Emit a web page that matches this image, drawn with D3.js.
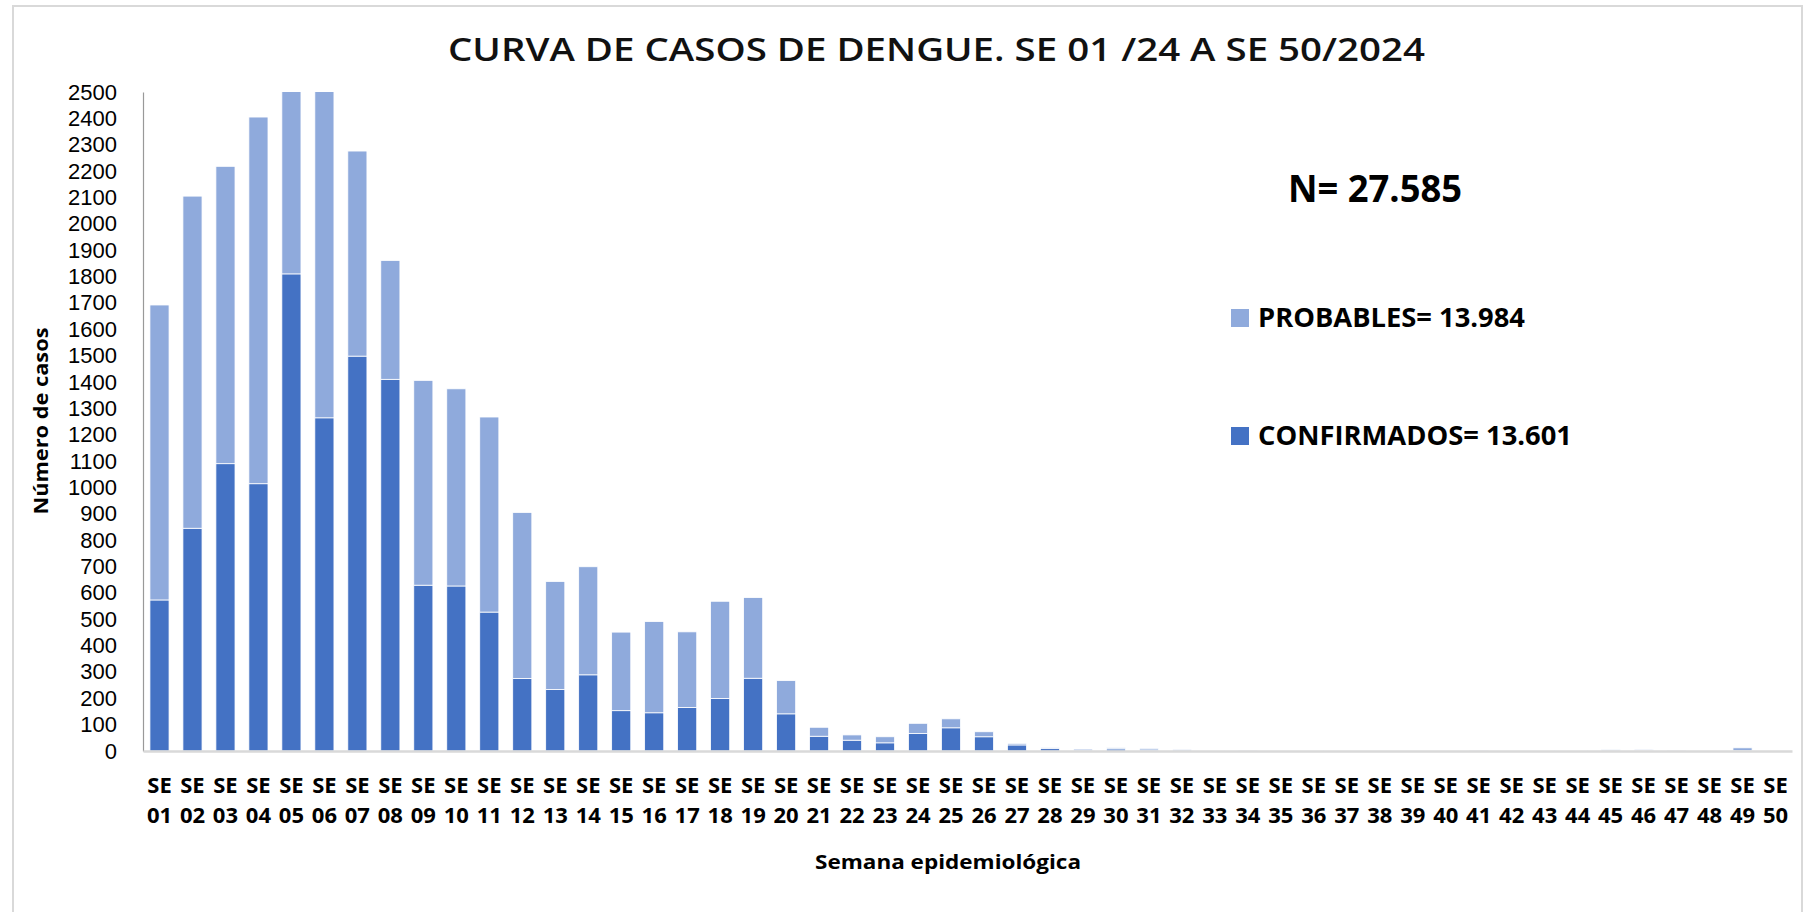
<!DOCTYPE html>
<html>
<head>
<meta charset="utf-8">
<script src="https://cdn.jsdelivr.net/npm/d3@7"></script>
<style>
    html, body { margin: 0; padding: 0; background: #fff; }
    svg { display: block; }
    .y.axis text { font-family: "Liberation Sans", Arial, sans-serif; font-size: 22px; fill: #000; }
    .x.axis text { font-family: "Open Sans", sans-serif; font-weight: bold; font-size: 22px; fill: #000; }
</style>
</head>
<body>
<div id="chart"></div>
<script>
    // semanas epidemiologicas 01..50
    var weeks = ["01", "02", "03", "04", "05", "06", "07", "08", "09", "10",
        "11", "12", "13", "14", "15", "16", "17", "18", "19", "20",
        "21", "22", "23", "24", "25", "26", "27", "28", "29", "30",
        "31", "32", "33", "34", "35", "36", "37", "38", "39", "40",
        "41", "42", "43", "44", "45", "46", "47", "48", "49", "50"];

    var confirmados = [573, 845, 1090, 1014, 1810, 1264, 1498, 1410, 629, 626,
        527, 275, 233, 289, 153, 145, 165, 199, 276, 141,
        56, 41, 31, 66, 88, 54, 23, 9, 1, 8,
        4, 1, 0, 0, 0, 0, 0, 0, 0, 0,
        0, 0, 0, 0, 1, 2, 0, 0, 1, 0];

    var probables = [1119, 1260, 1128, 1391, 890, 1345, 778, 451, 777, 748,
        740, 630, 410, 410, 298, 346, 287, 369, 306, 126,
        34, 20, 23, 39, 34, 19, 6, 4, 6, 4,
        6, 5, 2, 1, 0, 3, 0, 0, 0, 0,
        1, 0, 3, 3, 4, 4, 1, 2, 11, 0];

    var yTicks = d3.range(0, 2501, 100);

    var chartTitle = "CURVA DE CASOS DE DENGUE. SE 01 /24 A SE 50/2024";
    var totalLabel = "N= 27.585";
    var legendItems = [
        { key: "probables", label: "PROBABLES= 13.984", color: "#8FAADC" },
        { key: "confirmados", label: "CONFIRMADOS= 13.601", color: "#4472C4" }
    ];

    var data = weeks.map(function (w, i) {
        return { week: w, confirmados: confirmados[i], probables: probables[i] };
    });

    var width = 1809, height = 912;
    var plot = { left: 143, right: 1792, top: 92, bottom: 751 };

    var svg = d3.select("#chart").append("svg")
        .attr("width", width)
        .attr("height", height);

    // marco del grafico
    svg.append("rect")
        .attr("x", 13).attr("y", 6)
        .attr("width", 1789).attr("height", 940)
        .attr("fill", "none")
        .attr("stroke", "#d9d9d9")
        .attr("stroke-width", 2);

    var xScale = d3.scaleBand()
        .domain(weeks)
        .range([plot.left, plot.right])
        .paddingInner(0.42)
        .paddingOuter(0.21);

    var yScale = d3.scaleLinear()
        .domain([0, 2500])
        .range([plot.bottom, plot.top]);

    svg.append("clipPath").attr("id", "plot-clip")
        .append("rect")
        .attr("x", plot.left).attr("y", plot.top)
        .attr("width", plot.right - plot.left)
        .attr("height", plot.bottom - plot.top);

    var stack = d3.stack().keys(["confirmados", "probables"]);
    var series = stack(data);
    var colors = { confirmados: "#4472C4", probables: "#8FAADC" };

    svg.append("g")
        .attr("clip-path", "url(#plot-clip)")
        .selectAll("g")
        .data(series)
        .enter().append("g")
        .attr("fill", function (d) { return colors[d.key]; })
        .selectAll("rect")
        .data(function (d) { return d; })
        .enter().append("rect")
        .attr("x", function (d) { return xScale(d.data.week); })
        .attr("width", xScale.bandwidth())
        .attr("y", function (d) { return yScale(d[1]); })
        .attr("height", function (d) { return Math.max(0, yScale(d[0]) - yScale(d[1])); })
        .attr("stroke", "#fff")
        .attr("stroke-width", 0.8);

    // eje y
    var yAxis = d3.axisLeft(yScale)
        .tickValues(yTicks)
        .tickSize(0)
        .tickPadding(26)
        .tickFormat(d3.format("d"));

    var gy = svg.append("g")
        .attr("class", "y axis")
        .attr("transform", "translate(" + plot.left + ",0)")
        .call(yAxis);
    gy.select(".domain").attr("stroke", "#999").attr("stroke-width", 1.2);

    // eje x, etiquetas en dos lineas
    var xAxis = d3.axisBottom(xScale).tickSize(0).tickFormat("");
    var gx = svg.append("g")
        .attr("class", "x axis")
        .attr("transform", "translate(0," + plot.bottom + ")")
        .call(xAxis);
    gx.select(".domain").attr("stroke", "#d9d9d9").attr("stroke-width", 2.5);

    gx.selectAll(".tick").each(function (d) {
        var t = d3.select(this).append("text").attr("text-anchor", "middle");
        t.append("tspan").attr("x", 0).attr("y", 42).text("SE");
        t.append("tspan").attr("x", 0).attr("y", 72).text(d);
    });

    // titulos
    svg.append("text")
        .attr("x", 448).attr("y", 61)
        .attr("textLength", 977)
        .attr("lengthAdjust", "spacingAndGlyphs")
        .style("font-family", "'Open Sans', sans-serif")
        .style("font-weight", 600)
        .style("font-size", "32px")
        .style("fill", "#111")
        .text(chartTitle);

    svg.append("text")
        .attr("x", 815).attr("y", 869)
        .attr("textLength", 266)
        .attr("lengthAdjust", "spacingAndGlyphs")
        .style("font-family", "'Open Sans', sans-serif")
        .style("font-weight", "bold")
        .style("font-size", "20px")
        .text("Semana epidemiológica");

    svg.append("text")
        .attr("transform", "translate(48,421) rotate(-90)")
        .attr("text-anchor", "middle")
        .attr("textLength", 187)
        .attr("lengthAdjust", "spacingAndGlyphs")
        .style("font-family", "'Open Sans', sans-serif")
        .style("font-weight", "bold")
        .style("font-size", "20px")
        .text("Número de casos");

    // total y leyenda
    svg.append("text")
        .attr("x", 1288).attr("y", 202)
        .attr("textLength", 174)
        .attr("lengthAdjust", "spacingAndGlyphs")
        .style("font-family", "'Open Sans', sans-serif")
        .style("font-weight", "bold")
        .style("font-size", "37px")
        .text(totalLabel);

    var legend = svg.append("g").selectAll("g")
        .data(legendItems)
        .enter().append("g")
        .attr("transform", function (d, i) { return "translate(1231," + (309 + i * 118) + ")"; });

    legend.append("rect")
        .attr("width", 18).attr("height", 18)
        .attr("fill", function (d) { return d.color; });

    legend.append("text")
        .attr("x", 27).attr("y", 18)
        .attr("textLength", function (d, i) { return i === 0 ? 267 : 314; })
        .attr("lengthAdjust", "spacingAndGlyphs")
        .style("font-family", "'Open Sans', sans-serif")
        .style("font-weight", "bold")
        .style("font-size", "26px")
        .text(function (d) { return d.label; });
</script>
</body>
</html>
